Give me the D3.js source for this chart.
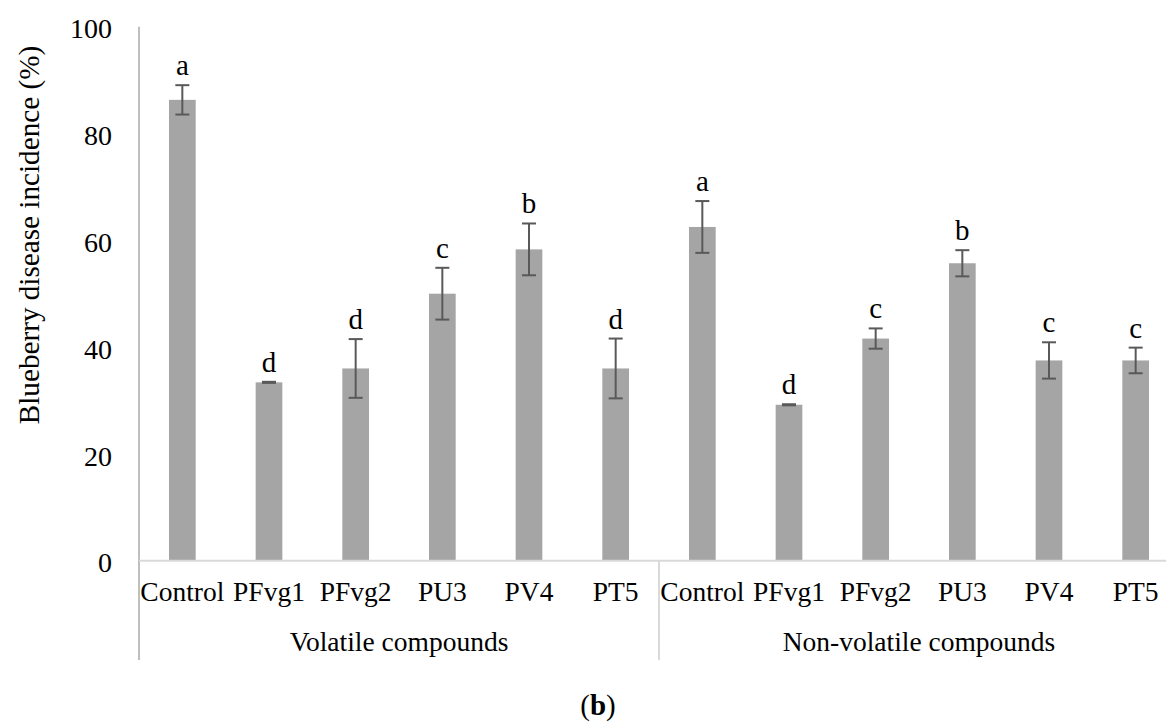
<!DOCTYPE html>
<html>
<head>
<meta charset="utf-8">
<script src="https://cdn.jsdelivr.net/npm/d3@7"></script>
<style>
  html, body { margin: 0; padding: 0; background: #fff; }
  svg { display: block; font-family: "Liberation Serif", "Times New Roman", serif; }
</style>
</head>
<body>
<svg id="chart" width="1166" height="722"></svg>
<script>
// Disease incidence of blueberry fruit treated with bacterial compounds
const groups = ["Volatile compounds", "Non-volatile compounds"];
const treatments = ["Control", "PFvg1", "PFvg2", "PU3", "PV4", "PT5"];

const volatileMean = [86.3, 33.4, 36.0, 50.0, 58.3, 36.0];
const volatileErr = [2.75, 0.1, 5.5, 4.85, 4.85, 5.6];
const volatileLetters = ["a", "d", "d", "c", "b", "d"];

const nonVolatileMean = [62.5, 29.2, 41.6, 55.7, 37.5, 37.5];
const nonVolatileErr = [4.85, 0.1, 1.9, 2.45, 3.4, 2.4];
const nonVolatileLetters = ["a", "d", "c", "b", "c", "c"];

const yTicks = [0, 20, 40, 60, 80, 100];
const yTitle = "Blueberry disease incidence (%)";
const panelLabel = "b";

const serif = "Liberation Serif, Times New Roman, serif";

// Flatten into one row per bar
const rows = [];
[[volatileMean, volatileErr, volatileLetters], [nonVolatileMean, nonVolatileErr, nonVolatileLetters]]
  .forEach(([m, e, l], gi) => {
    treatments.forEach((t, i) => {
      rows.push({ key: gi + "-" + t, group: groups[gi], name: t, value: m[i], err: e[i], letter: l[i] });
    });
  });

const svg = d3.select("#chart");
const plotLeft = 139, plotRight = 1179, plotTop = 26.7, plotBase = 560.7;

const x = d3.scaleBand().domain(rows.map(d => d.key)).range([plotLeft, plotRight]).paddingInner(0.692).paddingOuter(0.346);
const y = d3.scaleLinear().domain([0, 100]).range([plotBase, plotTop]);

// Y axis labels
const yAxis = d3.axisLeft(y).tickValues(yTicks).tickSize(0).tickPadding(27);
const gy = svg.append("g").attr("transform", `translate(${plotLeft},0)`).call(yAxis);
gy.attr("font-family", serif);
gy.select(".domain").remove();
gy.selectAll("text")
  .attr("font-family", serif)
  .attr("font-size", 28)
  .attr("fill", "#000")
  .attr("dy", "0.4em");

// Vertical axis line running through the category area
svg.append("line")
  .attr("x1", plotLeft).attr("x2", plotLeft).attr("y1", plotTop).attr("y2", 660)
  .attr("stroke", "#bfbfbf").attr("stroke-width", 2);

// Bars
svg.append("g").selectAll("rect").data(rows).join("rect")
  .attr("x", d => x(d.key))
  .attr("width", x.bandwidth())
  .attr("y", d => y(d.value))
  .attr("height", d => y(0) - y(d.value))
  .attr("fill", "#a5a5a5");

// Error bars
const eg = svg.append("g").attr("stroke", "#595959").attr("stroke-width", 2);
rows.forEach(d => {
  const cx = x(d.key) + x.bandwidth() / 2;
  const y1 = y(d.value + d.err), y2 = y(d.value - d.err);
  eg.append("line").attr("x1", cx).attr("x2", cx).attr("y1", y1).attr("y2", y2);
  eg.append("line").attr("x1", cx - 7).attr("x2", cx + 7).attr("y1", y1).attr("y2", y1);
  eg.append("line").attr("x1", cx - 7).attr("x2", cx + 7).attr("y1", y2).attr("y2", y2);
});

// Significance letters
svg.append("g").selectAll("text").data(rows).join("text")
  .attr("x", d => x(d.key) + x.bandwidth() / 2)
  .attr("y", d => y(d.value + d.err) - 10)
  .attr("text-anchor", "middle")
  .attr("font-family", serif)
  .attr("font-size", 29)
  .attr("fill", "#000")
  .text(d => d.letter);

// Horizontal baseline
svg.append("line")
  .attr("x1", plotLeft).attr("x2", 1166).attr("y1", plotBase).attr("y2", plotBase)
  .attr("stroke", "#d9d9d9").attr("stroke-width", 2);

// Category labels
svg.append("g").selectAll("text").data(rows).join("text")
  .attr("x", d => x(d.key) + x.bandwidth() / 2)
  .attr("y", 601)
  .attr("text-anchor", "middle")
  .attr("font-family", serif)
  .attr("font-size", 27.5)
  .attr("fill", "#000")
  .text(d => d.name);

// Group labels and separators
const step = x.step();
groups.forEach((g, gi) => {
  const x0 = plotLeft + gi * treatments.length * step;
  const x1 = x0 + treatments.length * step;
  svg.append("text")
    .attr("x", (x0 + x1) / 2)
    .attr("y", 651)
    .attr("text-anchor", "middle")
    .attr("font-family", serif)
    .attr("font-size", 27.5)
    .attr("fill", "#000")
    .text(g);
  if (gi > 0) {
    svg.append("line")
      .attr("x1", x0).attr("x2", x0).attr("y1", plotBase).attr("y2", 660)
      .attr("stroke", "#d9d9d9").attr("stroke-width", 2);
  }
});

// Y axis title
svg.append("text")
  .attr("transform", `translate(39,235) rotate(-90)`)
  .attr("text-anchor", "middle")
  .attr("font-family", serif)
  .attr("font-size", 29.2)
  .attr("fill", "#000")
  .text(yTitle);

// Panel label
const pl = svg.append("text")
  .attr("x", 598).attr("y", 715)
  .attr("text-anchor", "middle")
  .attr("font-family", serif)
  .attr("font-size", 29)
  .attr("fill", "#000");
pl.append("tspan").text("(");
pl.append("tspan").attr("font-weight", "bold").text(panelLabel);
pl.append("tspan").text(")");
</script>
</body>
</html>
